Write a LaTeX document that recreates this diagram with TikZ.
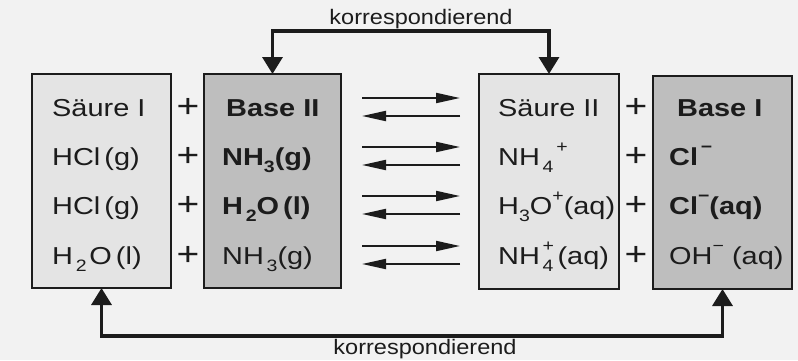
\documentclass[tikz,border=0pt]{standalone}
\usepackage{fontspec}
\setmainfont{Liberation Sans}[FakeStretch=1.18]
\newfontfamily\labfont{Liberation Sans}[FakeStretch=1.12]
\usetikzlibrary{arrows.meta}
\definecolor{bg}{HTML}{F2F2F2}
\definecolor{lightgray}{HTML}{E4E4E4}
\definecolor{darkgray}{HTML}{BEBEBE}
\definecolor{ink}{HTML}{1C1C1C}
\newcommand{\supx}[1]{\raisebox{0.5em}{\fontsize{16.5}{16.5}\selectfont #1}}
\newcommand{\subx}[1]{\raisebox{-0.3em}{\fontsize{16.5}{16.5}\selectfont #1}}
\begin{document}
\begin{tikzpicture}[x=1pt,y=-1pt,
  box/.style={draw=ink, line width=1.3pt, inner sep=0pt, outer sep=0pt},
  lightbox/.style={box, fill=lightgray},
  darkbox/.style={box, fill=darkgray},
  txt/.style={anchor=base west, inner sep=0pt, text=ink, font=\fontsize{24.5}{28}\selectfont},
  plus/.style={anchor=center, inner sep=0pt, text=ink, font=\fontsize{33}{36}\selectfont},
  lab/.style={anchor=base, inner sep=0pt, text=ink, font=\labfont\fontsize{21}{24}\selectfont},
  corr/.style={draw=ink, line width=3.4pt, {Triangle[length=17pt,width=20pt]}-{Triangle[length=17pt,width=20pt]}},
  eqarrow/.style={draw=ink, line width=2pt, -{Triangle[length=24pt,width=10pt]}}
]
\fill[bg] (0,0) rectangle (798,360);
\useasboundingbox (0,0) rectangle (798,360);

% boxes
\node[lightbox, minimum width=139pt, minimum height=214pt] (b1) at (101.5,181) {};
\node[darkbox,  minimum width=137pt, minimum height=214pt] (b2) at (272.5,181) {};
\node[lightbox, minimum width=140pt, minimum height=215pt] (b3) at (549,181.5) {};
\node[darkbox,  minimum width=139pt, minimum height=213pt] (b4) at (722.5,182.5) {};

% column 1
\node[txt] (a1) at (52,116) {Säure I};
\node[txt] (a2) at (52,165) {HCl\,(g)};
\node[txt] (a3) at (52,214) {HCl\,(g)};
\node[txt] (a4) at (52,264) {H\subx{\,2\,}O\,(l)};

% plus 1
\node[plus] (p11) at (188,108) {+};
\node[plus] (p12) at (188,157) {+};
\node[plus] (p13) at (188,206) {+};
\node[plus] (p14) at (188,256) {+};

% column 2
\node[txt] (c1) at (226,116) {\textbf{Base II}};
\node[txt] (c2) at (222,165) {\textbf{NH\subx{3}(g)}};
\node[txt] (c3) at (222,214) {\textbf{H\subx{\,2}O\,(l)}};
\node[txt] (c4) at (222,264) {NH\subx{\,3}(g)};

% column 3
\node[txt] (d1) at (498,116) {Säure II};
\node[txt] (d2) at (498,165) {NH\subx{\,4}\supx{\,+}};
\node[txt] (d3) at (498,214) {H\subx{3}O\supx{+}(aq)};
\node[txt] (d4) at (498,264) {NH\rlap{\supx{\,+}}\subx{\,4}\,(aq)};

% plus 2
\node[plus] (p21) at (636,108) {+};
\node[plus] (p22) at (636,157) {+};
\node[plus] (p23) at (636,206) {+};
\node[plus] (p24) at (636,256) {+};

% column 4
\node[txt] (e1) at (677,116) {\textbf{Base I}};
\node[txt] (e2) at (669,165) {\textbf{Cl\supx{\,−}}};
\node[txt] (e3) at (669,214) {\textbf{Cl\supx{−}(aq)}};
\node[txt] (e4) at (669,264) {OH\supx{−}\,\,(aq)};

% equilibrium arrows
\foreach \i/\yy in {1/116,2/165,3/214,4/264}{
  \coordinate (fl\i) at (362,\yy-18);
  \coordinate (fr\i) at (460,\yy-18);
  \coordinate (rl\i) at (362,\yy);
  \coordinate (rr\i) at (460,\yy);
  \draw[eqarrow] (fl\i) -- (fr\i);
  \draw[eqarrow] (rr\i) -- (rl\i);
}

% correspondence connectors
\coordinate (top) at (0,31);
\coordinate (bot) at (0,336);
\draw[corr] (b2.north) -- (b2.north |- top) -| (b3.north);
\draw[corr] (b1.south) -- (b1.south |- bot) -| (b4.south);

\node[lab] (k1) at (421,24) {korrespondierend};
\node[lab] (k2) at (425,354) {korrespondierend};
\end{tikzpicture}
\end{document}
